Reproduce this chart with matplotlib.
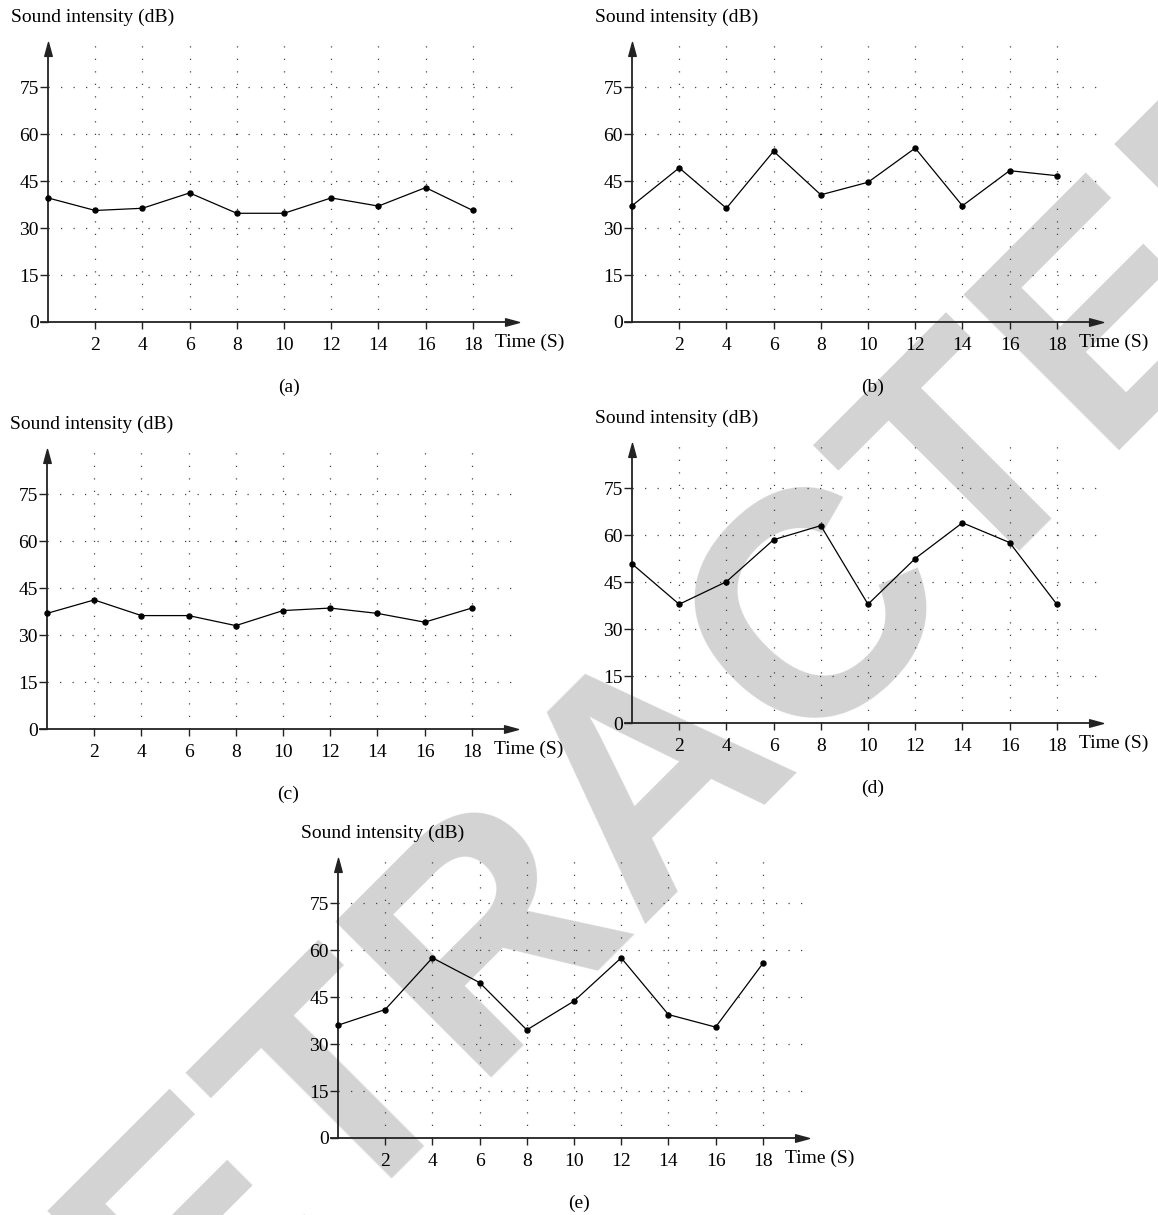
import numpy as np
import matplotlib
matplotlib.use("Agg")
import matplotlib.pyplot as plt
from matplotlib.path import Path

plt.rcParams['font.family'] = ['Liberation Serif', 'DejaVu Serif']

# time axis (s) shared by every recording
time_s = [0, 2, 4, 6, 8, 10, 12, 14, 16, 18]

# sound intensity (dB) for each recording
level_a = [39.6, 35.6, 36.3, 41.2, 34.7, 34.7, 39.6, 37.0, 42.9, 35.6]
level_b = [37.1, 49.2, 36.3, 54.5, 40.6, 44.6, 55.5, 37.1, 48.3, 46.7]
level_c = [36.9, 41.2, 36.2, 36.2, 33.0, 37.8, 38.6, 36.9, 34.1, 38.6]
level_d = [50.8, 37.9, 45.1, 58.5, 63.0, 37.9, 52.5, 63.9, 57.6, 37.9]
level_e = [36.0, 41.0, 57.5, 49.6, 34.5, 43.7, 57.5, 39.4, 35.4, 55.7]

x_ticks = [2, 4, 6, 8, 10, 12, 14, 16, 18]
y_ticks = [0, 15, 30, 45, 60, 75]
panel_tags = ['(a)', '(b)', '(c)', '(d)', '(e)']
panel_levels = [level_a, level_b, level_c, level_d, level_e]

# pixel position of each plot's origin (0 s, 0 dB)
origins = [(48, 322), (632, 322), (47, 729), (632, 723), (338, 1138)]

W, H = 1158, 1215
px_x = 23.6    # pixels per second
px_y = 3.133   # pixels per dB
x_lo, x_hi = -1, 21
y_lo, y_hi = -4, 92

fig = plt.figure(figsize=(W / 100, H / 100), dpi=100)
fig.patch.set_facecolor('white')

# arrow head shapes (tip at the data point)
head_r = Path([(0, 0), (-1, 0.27), (-1, -0.27), (0, 0)],
              [Path.MOVETO, Path.LINETO, Path.LINETO, Path.CLOSEPOLY])
head_u = Path([(0, 0), (0.27, -1), (-0.27, -1), (0, 0)],
              [Path.MOVETO, Path.LINETO, Path.LINETO, Path.CLOSEPOLY])

axis_col = '#222222'
grid_kw = dict(color='#444444', lw=0.9, linestyle=(0, (1, 9)), zorder=1)

for tag, levels, (ox, oy) in zip(panel_tags, panel_levels, origins):
    left = (ox + x_lo * px_x) / W
    bottom = 1 - (oy - y_lo * px_y) / H
    width = (x_hi - x_lo) * px_x / W
    height = (y_hi - y_lo) * px_y / H
    ax = fig.add_axes([left, bottom, width, height])
    ax.set_facecolor('none')
    ax.set_xlim(x_lo, x_hi)
    ax.set_ylim(y_lo, y_hi)

    # dotted grid
    ax.hlines(y_ticks[1:], 0, 20, **grid_kw)
    ax.vlines(x_ticks, 0, 90.5, **grid_kw)

    # axes with arrow heads
    for s in ['top', 'right']:
        ax.spines[s].set_visible(False)
    ax.spines['left'].set_position(('data', 0))
    ax.spines['bottom'].set_position(('data', 0))
    ax.spines['left'].set_bounds(0, 87)
    ax.spines['bottom'].set_bounds(-0.3, 19.4)
    for s in ['left', 'bottom']:
        ax.spines[s].set_color(axis_col)
        ax.spines[s].set_linewidth(1.3)
    ax.plot([19.95], [0], marker=head_r, ms=20, color=axis_col, clip_on=False, zorder=4)
    ax.plot([0], [89.4], marker=head_u, ms=20, color=axis_col, clip_on=False, zorder=4)

    ax.set_xticks(x_ticks)
    ax.set_yticks(y_ticks)
    ax.tick_params(axis='x', direction='out', length=5, width=1, color=axis_col,
                   pad=6, labelsize=14)
    ax.tick_params(axis='y', direction='out', length=5.5, width=1, color=axis_col,
                   pad=1, labelsize=14)

    # measured levels
    ax.plot(time_s, levels, color='black', lw=0.9, marker='o', ms=3.6,
            clip_on=False, zorder=5)

    ax.text(-37 / px_x, 305 / px_y, 'Sound intensity (dB)', fontsize=14,
            ha='left', va='center')
    ax.text(447 / px_x, -20 / px_y, 'Time (S)', fontsize=14, ha='left', va='center')
    ax.text(241 / px_x, -65 / px_y, tag, fontsize=14, ha='center', va='center')

# retraction stamp behind the plots
fig.text(716 / W, 1 - 832 / H, 'RETRACTED', fontsize=230, fontweight='bold',
         family='Liberation Sans', color='#d3d3d3', rotation=45,
         rotation_mode='anchor', ha='center', va='baseline', zorder=-1)

fig.savefig('out.png', dpi=100)
